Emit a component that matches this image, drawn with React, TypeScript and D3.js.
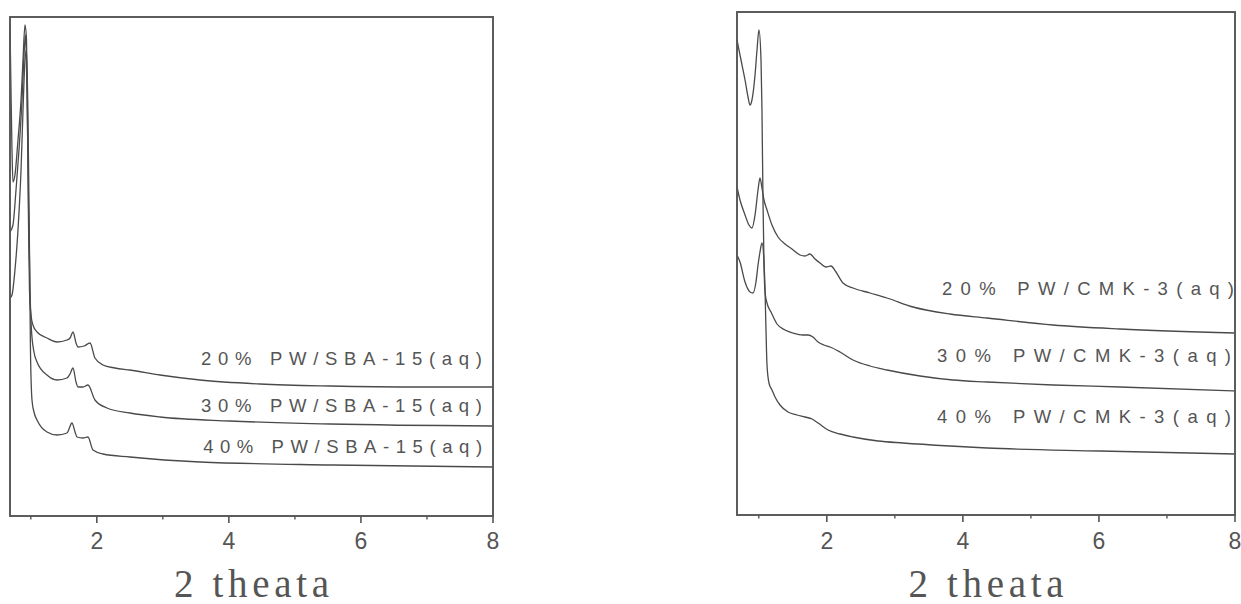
import React from "react";
import * as d3 from "d3";

const width = 1241;
const height = 604;

// 2θ ticks
const majorTicks = [2, 4, 6, 8];
const minorTicks = [1, 3, 5, 7];

// PW/SBA-15 patterns, [2θ, intensity a.u.]
const sba20 = [
  [0.685, 491], [0.7, 426], [0.715, 366], [0.73, 334], [0.76, 341], [0.806, 376],
  [0.852, 416], [0.882, 456], [0.912, 491], [0.935, 476], [0.95, 396], [0.965, 296],
  [0.98, 226], [1.003, 201], [1.033, 191], [1.094, 184], [1.245, 178], [1.397, 174],
  [1.548, 176], [1.594, 178], [1.639, 184], [1.685, 173], [1.715, 169], [1.806, 170],
  [1.897, 173], [1.972, 158], [2.093, 151], [2.275, 148], [2.502, 146], [2.957, 141],
  [3.563, 136], [4.472, 132], [5.531, 130], [6.9, 129], [8.0, 129]
];
const sba30 = [
  [0.685, 284], [0.73, 291], [0.776, 326], [0.821, 366], [0.867, 416], [0.897, 461],
  [0.92, 481], [0.942, 426], [0.965, 316], [0.988, 226], [1.01, 186], [1.048, 164],
  [1.094, 154], [1.245, 141], [1.397, 136], [1.548, 138], [1.594, 142], [1.639, 148],
  [1.685, 134], [1.715, 129], [1.79, 129], [1.866, 131], [1.972, 116], [2.154, 108],
  [2.502, 103], [2.957, 99], [4.017, 95], [5.531, 92], [8.0, 90]
];
const sba40 = [
  [0.685, 218], [0.715, 221], [0.76, 246], [0.806, 286], [0.852, 346], [0.882, 406],
  [0.912, 456], [0.935, 466], [0.958, 396], [0.98, 266], [0.995, 166], [1.018, 116],
  [1.048, 104], [1.094, 96], [1.245, 84], [1.397, 81], [1.548, 83], [1.624, 93],
  [1.67, 84], [1.7, 79], [1.79, 78], [1.866, 79], [1.942, 66], [2.093, 62],
  [2.502, 59], [3.563, 54], [5.577, 51], [8.0, 49]
];

// PW/CMK-3 patterns, [2θ, intensity a.u.]
const cmk20 = [
  [0.68, 328], [0.724, 315], [0.798, 300], [0.856, 290], [0.9, 287], [0.945, 300],
  [0.989, 325], [1.018, 337], [1.047, 327], [1.077, 315], [1.121, 305], [1.194, 290],
  [1.283, 278], [1.386, 271], [1.488, 266], [1.606, 260], [1.68, 259], [1.753, 261],
  [1.827, 256], [1.9, 252], [1.988, 248], [2.062, 249], [2.135, 243], [2.238, 232],
  [2.385, 227], [2.635, 222], [2.885, 217], [3.267, 208], [3.81, 201], [4.355, 197],
  [5.325, 190], [6.31, 186], [8.0, 182]
];
const cmk30 = [
  [0.68, 475], [0.739, 455], [0.798, 435], [0.842, 418], [0.871, 410], [0.9, 415],
  [0.945, 440], [0.974, 465], [1.003, 485], [1.033, 455], [1.047, 405], [1.062, 315],
  [1.077, 250], [1.092, 223], [1.121, 212], [1.18, 203], [1.268, 191], [1.386, 185],
  [1.503, 182], [1.65, 180], [1.724, 180], [1.797, 178], [1.871, 173], [1.959, 170],
  [2.047, 168], [2.194, 163], [2.385, 155], [2.635, 149], [2.885, 145], [3.37, 139],
  [3.855, 135], [4.355, 133], [5.325, 130], [6.31, 128], [8.0, 124]
];
const cmk40 = [
  [0.68, 260], [0.724, 253], [0.798, 233], [0.871, 223], [0.915, 222], [0.959, 233],
  [0.989, 250], [1.018, 263], [1.047, 272], [1.077, 253], [1.092, 225], [1.106, 185],
  [1.121, 150], [1.15, 132], [1.194, 125], [1.239, 118], [1.312, 110], [1.43, 103],
  [1.562, 100], [1.68, 98], [1.782, 96], [1.871, 92], [2.018, 85], [2.194, 81],
  [2.385, 78], [2.753, 74], [3.12, 72], [3.81, 69], [4.355, 67], [6.016, 64], [8.0, 61]
];

const sbaLabels = ["20% PW/SBA-15(aq)", "30% PW/SBA-15(aq)", "40% PW/SBA-15(aq)"];
const cmkLabels = ["20% PW/CMK-3(aq)", "30% PW/CMK-3(aq)", "40% PW/CMK-3(aq)"];

const panels = [
  {
    left: 10, right: 493, top: 17, bottom: 516, xMin: 0.685, yMax: 499,
    series: [sba20, sba30, sba40],
    labels: sbaLabels,
    labelPos: [[3.578, 151, 281], [3.578, 104, 281], [3.61, 63, 279]]
  },
  {
    left: 737, right: 1235, top: 12, bottom: 515, xMin: 0.68, yMax: 503,
    series: [cmk20, cmk30, cmk40],
    labels: cmkLabels,
    labelPos: [[3.693, 220, 292], [3.62, 153, 294], [3.62, 92, 294]]
  }
];

function Panel({ p }) {
  const x = d3.scaleLinear().domain([p.xMin, 8]).range([p.left, p.right]);
  const y = d3.scaleLinear().domain([0, p.yMax]).range([p.bottom, p.top]);
  const line = d3.line().x(d => x(d[0])).y(d => y(d[1])).curve(d3.curveMonotoneX);
  const cx = (p.left + p.right) / 2;

  return (
    <g>
      {p.series.map((s, i) => (
        <path key={i} d={line(s)} fill="none" stroke="#4a4a4a" strokeWidth={1.3} />
      ))}
      <rect x={p.left} y={p.top} width={p.right - p.left} height={p.bottom - p.top}
        fill="none" stroke="#555" strokeWidth={1.9} />
      {majorTicks.map(t => (
        <line key={"M" + t} x1={x(t)} x2={x(t)} y1={p.bottom} y2={p.bottom + 7}
          stroke="#555" strokeWidth={1.6} />
      ))}
      {minorTicks.map(t => (
        <line key={"m" + t} x1={x(t)} x2={x(t)} y1={p.bottom} y2={p.bottom + 3.5}
          stroke="#555" strokeWidth={1.4} />
      ))}
      {majorTicks.map(t => (
        <text key={"l" + t} x={x(t)} y={549} textAnchor="middle"
          fontFamily="Liberation Sans, Arial, sans-serif" fontSize={23} fill="#555">
          {t}
        </text>
      ))}
      {p.labels.map((lab, i) => (
        <text key={lab} x={x(p.labelPos[i][0])} y={y(p.labelPos[i][1])}
          textLength={p.labelPos[i][2]} lengthAdjust="spacing"
          fontFamily="Liberation Sans, Arial, sans-serif" fontSize={18.5} fill="#555">
          {lab}
        </text>
      ))}
      <text x={cx} y={597} textAnchor="middle" textLength={155} lengthAdjust="spacing"
        fontFamily="Liberation Serif, Times New Roman, serif" fontSize={39} fill="#555">
        2 theata
      </text>
    </g>
  );
}

export default function App() {
  return (
    <svg width={width} height={height}
      style={{ position: "absolute", left: 0, top: 0, background: "#fff" }}>
      {panels.map((p, i) => <Panel key={i} p={p} />)}
    </svg>
  );
}
